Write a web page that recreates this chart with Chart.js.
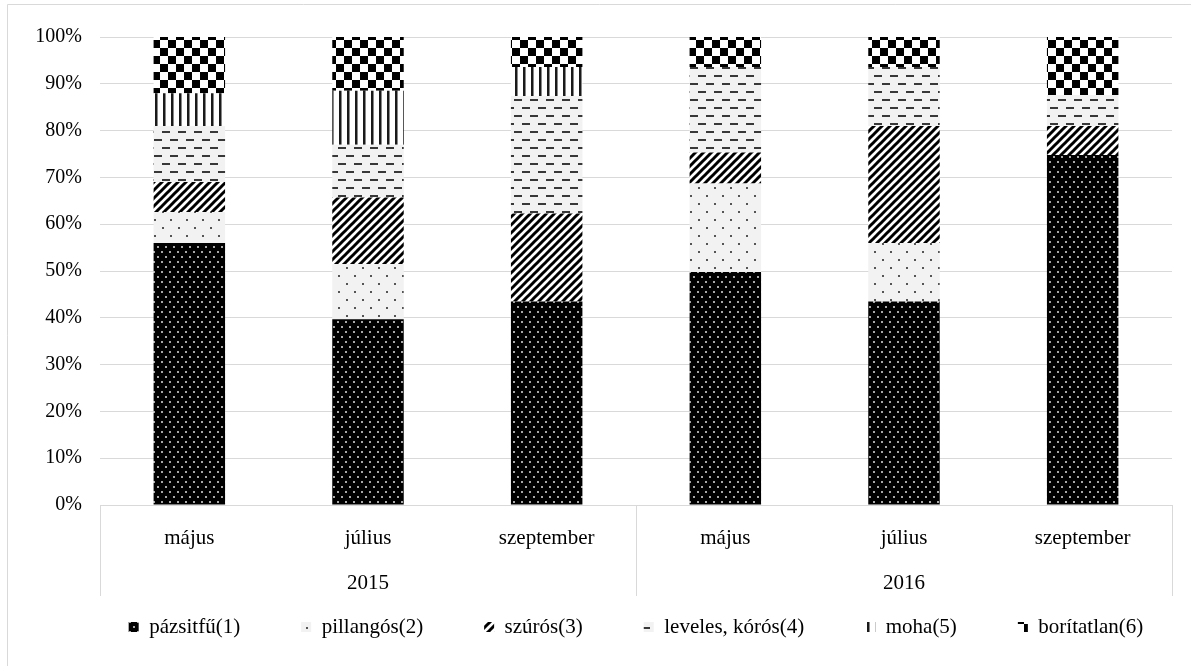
<!DOCTYPE html>
<html>
<head>
<meta charset="utf-8">
<script src="https://cdn.jsdelivr.net/npm/chart.js@4/dist/chart.umd.min.js"></script>
<style>
  html, body { margin: 0; padding: 0; background: #ffffff; }
  #wrap { width: 1191px; height: 666px; position: relative; }
</style>
</head>
<body>
<div id="wrap"><canvas id="c" width="1191" height="666"></canvas></div>
<script>
// ---- data ----
const years = ['2015', '2016'];
const months = ['május', 'július', 'szeptember', 'május', 'július', 'szeptember'];
const seriesNames = ['pázsitfű(1)', 'pillangós(2)', 'szúrós(3)', 'leveles, kórós(4)', 'moha(5)', 'borítatlan(6)'];
const pazsitfu   = [56.0, 39.7, 43.5, 49.8, 43.5, 74.8];
const pillangos  = [6.6, 11.8, 0.0, 18.9, 12.5, 0.0];
const szuros     = [6.4, 14.2, 18.8, 6.6, 25.0, 6.2];
const leveles    = [12.0, 11.3, 25.1, 18.3, 12.6, 6.6];
const moha       = [7.0, 11.5, 6.2, 0.0, 0.0, 0.0];
const boritatlan = [12.0, 11.5, 6.4, 6.4, 6.4, 12.4];
const yMax = 100;
const yStep = 10;

// ---- patterns ----
function makePattern(w, h, draw) {
  const t = document.createElement('canvas');
  t.width = w; t.height = h;
  const g = t.getContext('2d');
  draw(g, w, h);
  return document.getElementById('c').getContext('2d').createPattern(t, 'repeat');
}
const patPazsitfu = makePattern(8, 10, (g, w, h) => {
  g.fillStyle = '#000'; g.fillRect(0, 0, w, h);
  g.fillStyle = '#a8a8a8';
  g.fillRect(1, 1, 2, 2); g.fillRect(5, 6, 2, 2);
});
const patPillangos = makePattern(16, 16, (g, w, h) => {
  g.fillStyle = '#f2f2f2'; g.fillRect(0, 0, w, h);
  g.fillStyle = '#555';
  g.fillRect(2, 3, 2, 2); g.fillRect(10, 11, 2, 2);
});
const patSzuros = makePattern(8, 8, (g, w, h) => {
  g.fillStyle = '#fff'; g.fillRect(0, 0, w, h);
  g.strokeStyle = '#000'; g.lineWidth = 3;
  [-8, 0, 8].forEach(k => {
    g.beginPath(); g.moveTo(k - 2, 10); g.lineTo(k + 10, -2); g.stroke();
  });
});
const patLeveles = makePattern(16, 16, (g, w, h) => {
  g.fillStyle = '#f2f2f2'; g.fillRect(0, 0, w, h);
  g.fillStyle = '#383838';
  g.fillRect(2, 3, 8, 2); g.fillRect(10, 11, 8, 2); g.fillRect(-6, 11, 8, 2);
});
const patMoha = makePattern(8, 8, (g, w, h) => {
  g.fillStyle = '#fff'; g.fillRect(0, 0, w, h);
  g.fillStyle = '#1a1a1a'; g.fillRect(3, 0, 2, h);
  g.fillStyle = '#888'; g.fillRect(5, 0, 1, h);
});
const patBoritatlan = makePattern(16, 16, (g, w, h) => {
  g.fillStyle = '#fff'; g.fillRect(0, 0, w, h);
  g.fillStyle = '#000';
  g.fillRect(0, 0, 8, 8); g.fillRect(8, 8, 8, 8);
});

const seriesValues = [pazsitfu, pillangos, szuros, leveles, moha, boritatlan];
const seriesFills = [patPazsitfu, patPillangos, patSzuros, patLeveles, patMoha, patBoritatlan];

const FONT = "'Liberation Serif', 'Times New Roman', serif";
const gridColor = '#d9d9d9';

const framePlugin = {
  id: 'frame',
  beforeDraw(chart) {
    const ctx = chart.ctx;
    ctx.save();
    ctx.fillStyle = '#fff';
    ctx.fillRect(0, 0, chart.width, chart.height);
    ctx.strokeStyle = '#d9d9d9';
    ctx.lineWidth = 1;
    ctx.beginPath();
    ctx.moveTo(7.5, chart.height); ctx.lineTo(7.5, 4.5); ctx.lineTo(chart.width, 4.5);
    ctx.stroke();
    ctx.restore();
  }
};

const groupPlugin = {
  id: 'groups',
  afterLayout(chart) {
    const lg = chart.legend;
    const ca = chart.chartArea;
    if (lg) {
      const pad = chart.options.plugins.legend.labels.padding;
      const fs = chart.options.plugins.legend.labels.font.size;
      const targetCenter = chart.scales.x2.bottom + 32;
      lg.top = targetCenter - pad - fs / 2;
      lg.bottom = chart.height;
      lg.height = lg.bottom - lg.top;
      const d = (ca.left + ca.right) / 2 - (lg.left + lg.right) / 2;
      lg.left += d; lg.right += d;
    }
  },
  afterDraw(chart) {
    const { ctx, chartArea, scales } = chart;
    const x = scales.x, x2 = scales.x2;
    const per = months.length / years.length;
    const bounds = [chartArea.left];
    for (let i = 1; i < years.length; i++) {
      bounds.push((x.getPixelForValue(i * per - 1) + x.getPixelForValue(i * per)) / 2);
    }
    bounds.push(chartArea.right);
    ctx.save();
    ctx.strokeStyle = gridColor;
    ctx.lineWidth = 1;
    bounds.forEach(px => {
      const xx = Math.round(px) + 0.5;
      ctx.beginPath();
      ctx.moveTo(xx, chartArea.bottom);
      ctx.lineTo(xx, x2.bottom + 1);
      ctx.stroke();
    });
    ctx.restore();
  }
};

new Chart(document.getElementById('c'), {
  type: 'bar',
  data: {
    labels: months,
    datasets: seriesNames.map((name, i) => ({
      label: name,
      data: seriesValues[i],
      backgroundColor: seriesFills[i],
      borderWidth: 0,
      borderColor: 'rgba(0,0,0,0)',
      barPercentage: 0.4,
      categoryPercentage: 1.0
    }))
  },
  options: {
    responsive: false,
    animation: false,
    devicePixelRatio: 1,
    layout: { padding: { top: 37, left: 0, right: 19, bottom: 0 } },
    scales: {
      x: {
        stacked: true,
        grid: { display: false, drawTicks: false },
        border: { display: false },
        ticks: { font: { family: FONT, size: 21 }, color: '#000', padding: 21, maxRotation: 0, minRotation: 0, autoSkip: false },
        afterFit: s => { s.height = 45; }
      },
      x2: {
        type: 'category',
        labels: years,
        position: 'bottom',
        offset: true,
        grid: { display: false, drawTicks: false },
        border: { display: false },
        ticks: { font: { family: FONT, size: 21 }, color: '#000', padding: 21, maxRotation: 0, minRotation: 0 },
        afterFit: s => { s.height = 45; }
      },
      y: {
        stacked: true,
        min: 0,
        max: yMax,
        ticks: {
          stepSize: yStep,
          font: { family: FONT, size: 20 },
          color: '#000',
          padding: 18,
          callback: v => v + '%'
        },
        grid: { color: gridColor, lineWidth: 1, drawTicks: false },
        border: { display: false },
        afterFit: s => { s.width = 100; }
      }
    },
    plugins: {
      tooltip: { enabled: false },
      legend: {
        position: 'bottom',
        maxHeight: 71,
        labels: {
          font: { family: FONT, size: 21 },
          color: '#000',
          boxWidth: 10,
          boxHeight: 10,
          padding: 61
        }
      }
    }
  },
  plugins: [framePlugin, groupPlugin]
});
</script>
</body>
</html>
